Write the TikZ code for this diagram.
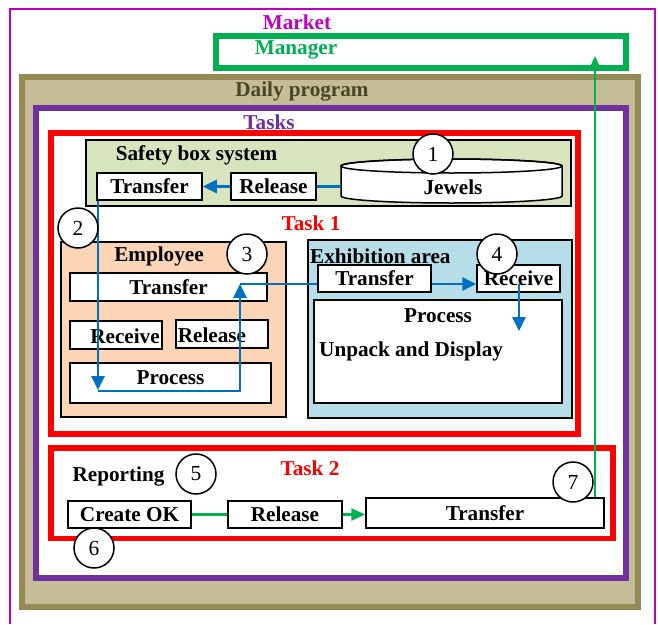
\documentclass[tikz,border=0pt]{standalone}
\usepackage{fontspec}
\setmainfont{Liberation Serif}
\usetikzlibrary{arrows.meta}
\definecolor{market}{HTML}{C000C0}
\definecolor{manager}{HTML}{00B050}
\definecolor{daily}{HTML}{C4BD97}
\definecolor{dailyline}{HTML}{948A54}
\definecolor{dailytext}{HTML}{4A4526}
\definecolor{tasks}{HTML}{7030A0}
\definecolor{flowblue}{HTML}{0070C0}
\definecolor{safety}{HTML}{D7E4BD}
\definecolor{employee}{HTML}{FBD5B5}
\definecolor{exhibit}{HTML}{B7DDE8}

\begin{document}
\begin{tikzpicture}[x=1pt, y=-1pt,
    box node/.style={draw, line width=1.5pt, fill=white, inner sep=0pt, font=\fontsize{21.2}{24}\selectfont\bfseries},
    zone node/.style={draw, inner sep=0pt},
    title node/.style={inner sep=0pt, font=\fontsize{21.2}{24}\selectfont\bfseries},
    num node/.style={circle, draw, line width=1.5pt, fill=white, minimum size=40pt, inner sep=0pt, font=\fontsize{21.5}{24}\selectfont},
    blue flow/.style={draw=flowblue, line width=2.6pt, >={Triangle[length=14pt, width=13pt]}},
    green flow/.style={draw=manager, line width=2.3pt, >={Triangle[length=14pt, width=12pt]}}]

    \useasboundingbox (0,0) rectangle (658,624);

    % Market and manager
    \draw[market, line width=2pt] (10,624) -- (10,9) -- (655,9) -- (655,624);
    \node[title node, color=market] (marketT) at (297,22) {Market};
    \node[zone node, draw=manager, line width=5.5pt, minimum width=410pt, minimum height=32pt] (manager) at (421,52) {};
    \node[title node, color=manager] (managerT) at (296,50) {Manager};

    % Daily program and tasks
    \node[zone node, draw=dailyline, fill=daily, line width=6pt, minimum width=616.5pt, minimum height=530pt] (daily) at (329.75,342) {};
    \node[title node, color=dailytext] (dailyT) at (302,91) {Daily program};
    \node[zone node, draw=tasks, fill=white, line width=5.5pt, minimum width=590pt, minimum height=470pt] (tasks) at (331,343) {};
    \node[title node, color=tasks] (tasksT) at (269,122) {Tasks};

    % Task 1
    \node[zone node, draw=red, line width=5.5pt, minimum width=527pt, minimum height=301pt] (task1) at (314.5,283.5) {};
    \node[title node, color=red] (task1T) at (311,223) {Task 1};

    \node[zone node, fill=safety, line width=1.5pt, minimum width=485pt, minimum height=66pt] (safe) at (328.5,173) {};
    \node[title node] (safeT) at (196.5,155) {Safety box system};
    \node[box node, minimum width=105pt, minimum height=27pt] (sbTransfer) at (149.5,186.5) {Transfer};
    \node[box node, minimum width=85pt, minimum height=27pt] (sbRelease) at (273.5,186.5) {Release};
    \node[minimum width=221pt, minimum height=44pt, inner sep=0pt] (jewels) at (451.5,181) {};
    \draw[line width=1.5pt, fill=white] (341,166) -- (341,196) arc[start angle=180, end angle=360, x radius=110.5pt, y radius=7pt]
        -- (562,166) arc[start angle=0, end angle=180, x radius=110.5pt, y radius=7pt] -- cycle;
    \draw[line width=1.5pt] (451.5,166) ellipse[x radius=110.5pt, y radius=7pt];
    \node[title node] (jewelsT) at (453,187) {Jewels};

    \node[zone node, fill=employee, line width=1.5pt, minimum width=225pt, minimum height=175pt] (emp) at (173.5,329.5) {};
    \node[title node] (empT) at (159,256) {Employee};
    \node[box node, minimum width=197pt, minimum height=28pt] (empTransfer) at (168.5,287) {Transfer};
    \node[box node, minimum width=92pt, minimum height=28pt] (empReceive) at (116,335) {};
    \node[title node] (empReceiveT) at (125,336) {Receive};
    \node[box node, minimum width=92pt, minimum height=28pt] (empRelease) at (222,334) {};
    \node[title node] (empReleaseT) at (212,335) {Release};
    \node[box node, minimum width=201pt, minimum height=40pt] (empProcess) at (170.5,383) {};
    \node[title node] (empProcessT) at (170.5,378) {Process};

    \node[zone node, fill=exhibit, line width=1.5pt, minimum width=264pt, minimum height=178pt] (exh) at (440,329) {};
    \node[title node, anchor=west] (exhT) at (310,256) {Exhibition area};
    \node[box node, minimum width=113pt, minimum height=27pt] (exTransfer) at (374.5,278.5) {Transfer};
    \node[box node, minimum width=83pt, minimum height=27pt] (exReceive) at (518.5,278.5) {Receive};
    \node[box node, minimum width=248pt, minimum height=103pt] (exProcess) at (438,351.5) {};
    \node[title node] (exProcessT) at (438,316) {Process};
    \node[title node, anchor=west] (unpackT) at (319,351) {Unpack and Display};

    % Task 2
    \node[zone node, draw=red, line width=5.5pt, minimum width=562pt, minimum height=90.5pt] (task2) at (332,493.25) {};
    \node[title node, color=red] (task2T) at (310,468) {Task 2};
    \node[title node] (reportT) at (118.5,476) {Reporting};
    \node[box node, minimum width=123pt, minimum height=27pt] (createOK) at (129.5,514.5) {Create OK};
    \node[box node, minimum width=114pt, minimum height=27pt] (repRelease) at (285,514.5) {Release};
    \node[box node, minimum width=238pt, minimum height=30pt] (repTransfer) at (485,513) {Transfer};

    % Blue flow
    \coordinate (downTip) at (98,390);
    \coordinate (upCorner) at (240,391);
    \coordinate (upTip) at (240,284);
    \coordinate (recvTip) at (519,331);
    \draw[blue flow] (jewels.west |- sbRelease.east) -- (sbRelease.east);
    \draw[blue flow, ->] (sbRelease.west) -- (sbTransfer.east);
    \draw[blue flow, ->] (sbTransfer.south west -| downTip) -- (downTip);
    \draw[blue flow, ->] (downTip |- upCorner) -- (upCorner) -- (upTip);
    \draw[blue flow] (upTip) -- (upTip -| exTransfer.west);
    \draw[blue flow, ->] (exTransfer.east |- upTip) -- (exReceive.west |- upTip);
    \draw[blue flow, ->] (recvTip |- upTip) -- (recvTip);

    % Numbers
    \node[num node] (n1) at (433,154) {1};
    \node[num node] (n2) at (78,228) {2};
    \node[num node] (n3) at (247,254) {3};
    \node[num node] (n4) at (497,254) {4};
    \node[num node] (n5) at (196,474) {5};
    \node[num node] (n6) at (94,548) {6};
    \node[num node] (n7) at (573,482) {7};

    % Green flow
    \coordinate (mgrTip) at (595,56);
    \draw[green flow] (createOK.east) -- (repRelease.west |- createOK.east);
    \draw[green flow, ->] (repRelease.east) -- (repTransfer.west |- repRelease.east);
    \draw[green flow, ->] (mgrTip |- repTransfer.north) -- (mgrTip);

\end{tikzpicture}
\end{document}
